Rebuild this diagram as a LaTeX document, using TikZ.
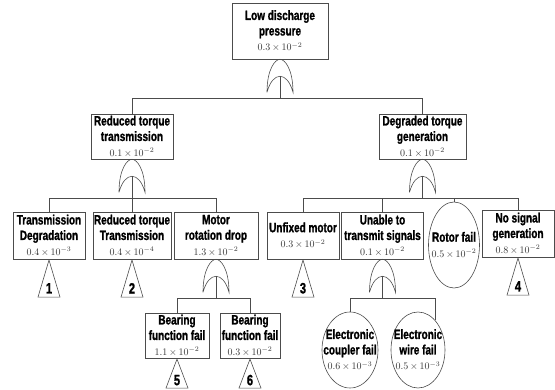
\documentclass[tikz,border=0pt]{standalone}
\usepackage[no-math]{fontspec}
\setmainfont[FakeStretch=0.74, BoldFeatures={FakeBold=1.2}]{Liberation Sans}
\usetikzlibrary{shapes.geometric,positioning}

\newcommand{\pval}[2]{{\fontsize{10}{12}\selectfont\mdseries\color{black!80}$#1\,{\times}\,10^{#2}$}}

\begin{document}
\begin{tikzpicture}[
            x=1pt, y=-1pt,
            event/.style={draw=black!70, line width=0.6pt, align=center, inner sep=1pt,
                          minimum height=47, font=\fontsize{13.5}{15.5}\selectfont\bfseries},
            basic/.style={ellipse, draw=black!70, line width=0.6pt, align=center, inner sep=-12pt,
                          font=\fontsize{13.5}{15.5}\selectfont\bfseries},
            transfer/.style={isosceles triangle, isosceles triangle stretches, shape border rotate=90,
                             draw=black!70, line width=0.6pt, inner sep=0pt, anchor=apex,
                             minimum width=22, minimum height=37, font=\fontsize{15}{17}\selectfont\bfseries},
            link/.style={draw=black!70, line width=0.6pt},
            orgate/.pic={
                \draw[link] (-13,33) .. controls (-13,10) and (-5,0) .. (0,0)
                    .. controls (5,0) and (13,10) .. (13,33)
                    .. controls (10,22) and (5,17) .. (0,17)
                    .. controls (-5,17) and (-10,22) .. (-13,33);
                \coordinate (-in) at (0,17);
            }
        ]
            \useasboundingbox (0,0) rectangle (555,390);

            \node[event, minimum width=96, minimum height=56] (top) at (280,31) {Low discharge\\pressure\\\pval{0.3}{-2}};
            \node[event, minimum width=82, minimum height=45] (red) at (132,136.5) {Reduced torque\\transmission\\\pval{0.1}{-2}};
            \node[event, minimum width=87, minimum height=45] (deg) at (422.5,136.5) {Degraded torque\\generation\\\pval{0.1}{-2}};

            \node[event, minimum width=72] (trdeg) at (49,235.5) {Transmission\\Degradation\\\pval{0.4}{-3}};
            \node[event, minimum width=72] (redtr) at (132,235.5) {Reduced torque\\Transmission\\\pval{0.4}{-4}};
            \node[event, minimum width=84] (motor) at (216,235.5) {Motor\\rotation drop\\\pval{1.3}{-2}};
            \node[event, minimum width=72] (unfixed) at (303,235.5) {Unfixed motor\\\pval{0.3}{-2}};
            \node[event, minimum width=82] (unable) at (382.5,235.5) {Unable to\\transmit signals\\\pval{0.1}{-2}};
            \node[basic, minimum width=51, minimum height=86] (rotor) at (454,245) {Rotor fail\\\pval{0.5}{-2}};
            \node[event, minimum width=72] (nosig) at (518,233.5) {No signal\\generation\\\pval{0.8}{-2}};

            \node[event, minimum width=64, minimum height=45] (bear1) at (177,335.5) {Bearing\\function fail\\\pval{1.1}{-2}};
            \node[event, minimum width=60, minimum height=45] (bear2) at (250,335.5) {Bearing\\function fail\\\pval{0.3}{-2}};
            \node[basic, minimum width=56, minimum height=76] (coupler) at (350,350) {Electronic\\coupler fail\\\pval{0.6}{-3}};
            \node[basic, minimum width=54, minimum height=76] (wire) at (418,350) {Electronic\\wire fail\\\pval{0.5}{-3}};

            \node[transfer] (t1) at (trdeg.south) {1};
            \node[transfer] (t2) at (redtr.south) {2};
            \node[transfer] (t3) at (unfixed.south) {3};
            \node[transfer] (t4) at (nosig.south) {4};
            \node[transfer, minimum height=29] (t5) at (bear1.south) {5};
            \node[transfer, minimum height=29] (t6) at (bear2.south) {6};

            \pic (gtop) at (top.south) {orgate};
            \pic (gred) at (red.south) {orgate};
            \pic (gdeg) at (deg.south) {orgate};
            \pic (gmot) at (motor.south) {orgate};
            \pic (gsig) at (unable.south) {orgate};

            \draw[link] (gtop-in) -- ++(0,22) coordinate (bartop);
            \draw[link] (red.north) |- (bartop) -| (deg.north);

            \draw[link] (gred-in) -- ++(0,22) coordinate (barred);
            \draw[link] (trdeg.north) |- (barred) -| (motor.north);
            \draw[link] (redtr.north) -- (redtr.north |- barred);

            \draw[link] (gdeg-in) -- ++(0,22) coordinate (bardeg);
            \draw[link] (unfixed.north) |- (bardeg) -| (nosig.north);
            \draw[link] (unable.north) -- (unable.north |- bardeg);
            \draw[link] (rotor.north) -- (rotor.north |- bardeg);

            \draw[link] (gmot-in) -- ++(0,22) coordinate (barmot);
            \draw[link] (bear1.north) |- (barmot) -| (bear2.north);

            \draw[link] (gsig-in) -- ++(0,22) coordinate (barsig);
            \draw[link] (coupler.north) |- (barsig) -| (wire.60);
        \end{tikzpicture}
\end{document}
